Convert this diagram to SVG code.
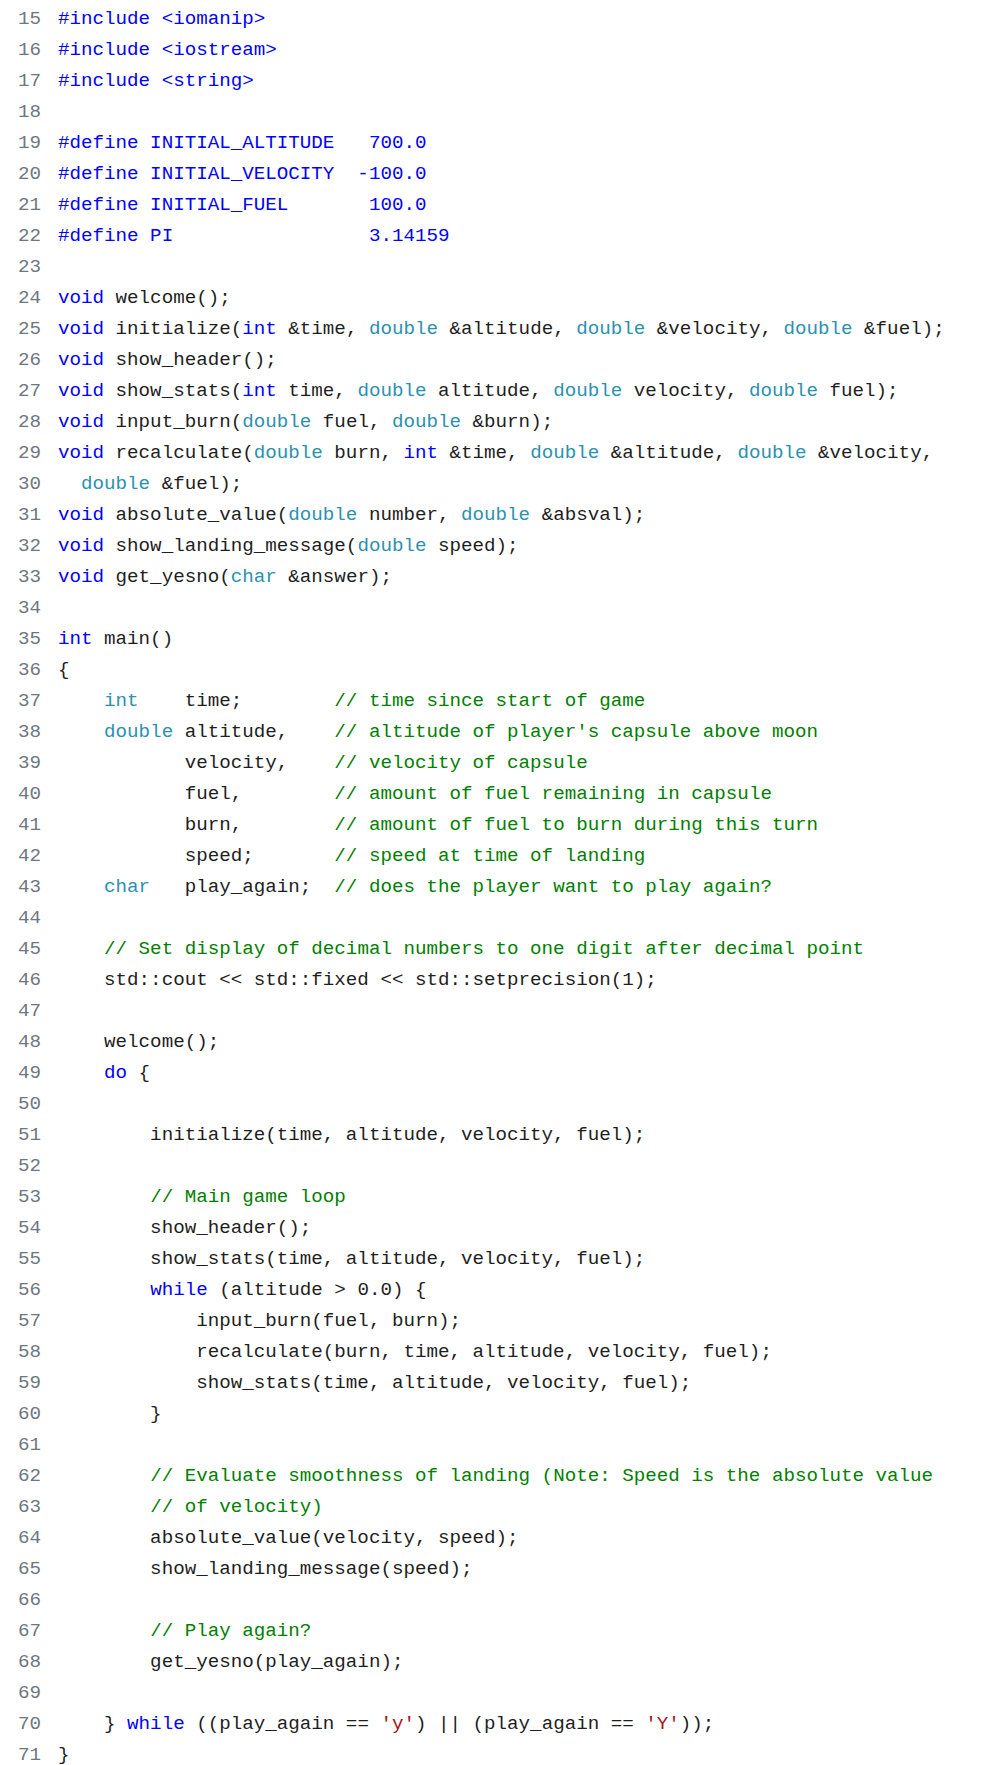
<svg xmlns="http://www.w3.org/2000/svg" width="982" height="1765" viewBox="0 0 982 1765">
<style>
text{font-family:"Liberation Mono","DejaVu Sans Mono",monospace;font-size:19.2px;fill:#1e1e1e;white-space:pre}
.ln{fill:#6e7681}
.k{fill:#0000ff}
.t{fill:#2b91af}
.c{fill:#008000}
.s{fill:#a31515}
.p{fill:#0000ff}
</style>
<rect width="982" height="1765" fill="#ffffff"/>
<g id="linenumbers">
<text x="18" y="23.5" class="ln">15</text>
<text x="18" y="54.5" class="ln">16</text>
<text x="18" y="85.5" class="ln">17</text>
<text x="18" y="116.5" class="ln">18</text>
<text x="18" y="147.5" class="ln">19</text>
<text x="18" y="178.5" class="ln">20</text>
<text x="18" y="209.5" class="ln">21</text>
<text x="18" y="240.5" class="ln">22</text>
<text x="18" y="271.5" class="ln">23</text>
<text x="18" y="302.5" class="ln">24</text>
<text x="18" y="333.5" class="ln">25</text>
<text x="18" y="364.5" class="ln">26</text>
<text x="18" y="395.5" class="ln">27</text>
<text x="18" y="426.5" class="ln">28</text>
<text x="18" y="457.5" class="ln">29</text>
<text x="18" y="488.5" class="ln">30</text>
<text x="18" y="519.5" class="ln">31</text>
<text x="18" y="550.5" class="ln">32</text>
<text x="18" y="581.5" class="ln">33</text>
<text x="18" y="612.5" class="ln">34</text>
<text x="18" y="643.5" class="ln">35</text>
<text x="18" y="674.5" class="ln">36</text>
<text x="18" y="705.5" class="ln">37</text>
<text x="18" y="736.5" class="ln">38</text>
<text x="18" y="767.5" class="ln">39</text>
<text x="18" y="798.5" class="ln">40</text>
<text x="18" y="829.5" class="ln">41</text>
<text x="18" y="860.5" class="ln">42</text>
<text x="18" y="891.5" class="ln">43</text>
<text x="18" y="922.5" class="ln">44</text>
<text x="18" y="953.5" class="ln">45</text>
<text x="18" y="984.5" class="ln">46</text>
<text x="18" y="1015.5" class="ln">47</text>
<text x="18" y="1046.5" class="ln">48</text>
<text x="18" y="1077.5" class="ln">49</text>
<text x="18" y="1108.5" class="ln">50</text>
<text x="18" y="1139.5" class="ln">51</text>
<text x="18" y="1170.5" class="ln">52</text>
<text x="18" y="1201.5" class="ln">53</text>
<text x="18" y="1232.5" class="ln">54</text>
<text x="18" y="1263.5" class="ln">55</text>
<text x="18" y="1294.5" class="ln">56</text>
<text x="18" y="1325.5" class="ln">57</text>
<text x="18" y="1356.5" class="ln">58</text>
<text x="18" y="1387.5" class="ln">59</text>
<text x="18" y="1418.5" class="ln">60</text>
<text x="18" y="1449.5" class="ln">61</text>
<text x="18" y="1480.5" class="ln">62</text>
<text x="18" y="1511.5" class="ln">63</text>
<text x="18" y="1542.5" class="ln">64</text>
<text x="18" y="1573.5" class="ln">65</text>
<text x="18" y="1604.5" class="ln">66</text>
<text x="18" y="1635.5" class="ln">67</text>
<text x="18" y="1666.5" class="ln">68</text>
<text x="18" y="1697.5" class="ln">69</text>
<text x="18" y="1728.5" class="ln">70</text>
<text x="18" y="1759.5" class="ln">71</text>
</g>
<g id="code">
<text x="58" y="23.5" class="p">#include &lt;iomanip&gt;</text>
<text x="58" y="54.5" class="p">#include &lt;iostream&gt;</text>
<text x="58" y="85.5" class="p">#include &lt;string&gt;</text>
<text x="58" y="147.5" class="p">#define INITIAL_ALTITUDE   700.0</text>
<text x="58" y="178.5" class="p">#define INITIAL_VELOCITY  -100.0</text>
<text x="58" y="209.5" class="p">#define INITIAL_FUEL       100.0</text>
<text x="58" y="240.5" class="p">#define PI                 3.14159</text>
<text x="58" y="302.5"><tspan class="k">void</tspan> welcome();</text>
<text x="58" y="333.5"><tspan class="k">void</tspan> initialize(<tspan class="k">int</tspan> &amp;time, <tspan class="t">double</tspan> &amp;altitude, <tspan class="t">double</tspan> &amp;velocity, <tspan class="t">double</tspan> &amp;fuel);</text>
<text x="58" y="364.5"><tspan class="k">void</tspan> show_header();</text>
<text x="58" y="395.5"><tspan class="k">void</tspan> show_stats(<tspan class="k">int</tspan> time, <tspan class="t">double</tspan> altitude, <tspan class="t">double</tspan> velocity, <tspan class="t">double</tspan> fuel);</text>
<text x="58" y="426.5"><tspan class="k">void</tspan> input_burn(<tspan class="t">double</tspan> fuel, <tspan class="t">double</tspan> &amp;burn);</text>
<text x="58" y="457.5"><tspan class="k">void</tspan> recalculate(<tspan class="t">double</tspan> burn, <tspan class="k">int</tspan> &amp;time, <tspan class="t">double</tspan> &amp;altitude, <tspan class="t">double</tspan> &amp;velocity,</text>
<text x="58" y="488.5">  <tspan class="t">double</tspan> &amp;fuel);</text>
<text x="58" y="519.5"><tspan class="k">void</tspan> absolute_value(<tspan class="t">double</tspan> number, <tspan class="t">double</tspan> &amp;absval);</text>
<text x="58" y="550.5"><tspan class="k">void</tspan> show_landing_message(<tspan class="t">double</tspan> speed);</text>
<text x="58" y="581.5"><tspan class="k">void</tspan> get_yesno(<tspan class="t">char</tspan> &amp;answer);</text>
<text x="58" y="643.5"><tspan class="k">int</tspan> main()</text>
<text x="58" y="674.5">{</text>
<text x="58" y="705.5">    <tspan class="t">int</tspan>    time;        <tspan class="c">// time since start of game</tspan></text>
<text x="58" y="736.5">    <tspan class="t">double</tspan> altitude,    <tspan class="c">// altitude of player's capsule above moon</tspan></text>
<text x="58" y="767.5">           velocity,    <tspan class="c">// velocity of capsule</tspan></text>
<text x="58" y="798.5">           fuel,        <tspan class="c">// amount of fuel remaining in capsule</tspan></text>
<text x="58" y="829.5">           burn,        <tspan class="c">// amount of fuel to burn during this turn</tspan></text>
<text x="58" y="860.5">           speed;       <tspan class="c">// speed at time of landing</tspan></text>
<text x="58" y="891.5">    <tspan class="t">char</tspan>   play_again;  <tspan class="c">// does the player want to play again?</tspan></text>
<text x="58" y="953.5">    <tspan class="c">// Set display of decimal numbers to one digit after decimal point</tspan></text>
<text x="58" y="984.5">    std::cout &lt;&lt; std::fixed &lt;&lt; std::setprecision(1);</text>
<text x="58" y="1046.5">    welcome();</text>
<text x="58" y="1077.5">    <tspan class="k">do</tspan> {</text>
<text x="58" y="1139.5">        initialize(time, altitude, velocity, fuel);</text>
<text x="58" y="1201.5">        <tspan class="c">// Main game loop</tspan></text>
<text x="58" y="1232.5">        show_header();</text>
<text x="58" y="1263.5">        show_stats(time, altitude, velocity, fuel);</text>
<text x="58" y="1294.5">        <tspan class="k">while</tspan> (altitude &gt; 0.0) {</text>
<text x="58" y="1325.5">            input_burn(fuel, burn);</text>
<text x="58" y="1356.5">            recalculate(burn, time, altitude, velocity, fuel);</text>
<text x="58" y="1387.5">            show_stats(time, altitude, velocity, fuel);</text>
<text x="58" y="1418.5">        }</text>
<text x="58" y="1480.5">        <tspan class="c">// Evaluate smoothness of landing (Note: Speed is the absolute value</tspan></text>
<text x="58" y="1511.5">        <tspan class="c">// of velocity)</tspan></text>
<text x="58" y="1542.5">        absolute_value(velocity, speed);</text>
<text x="58" y="1573.5">        show_landing_message(speed);</text>
<text x="58" y="1635.5">        <tspan class="c">// Play again?</tspan></text>
<text x="58" y="1666.5">        get_yesno(play_again);</text>
<text x="58" y="1728.5">    } <tspan class="k">while</tspan> ((play_again == <tspan class="s">'y'</tspan>) || (play_again == <tspan class="s">'Y'</tspan>));</text>
<text x="58" y="1759.5">}</text>
</g>
</svg>
